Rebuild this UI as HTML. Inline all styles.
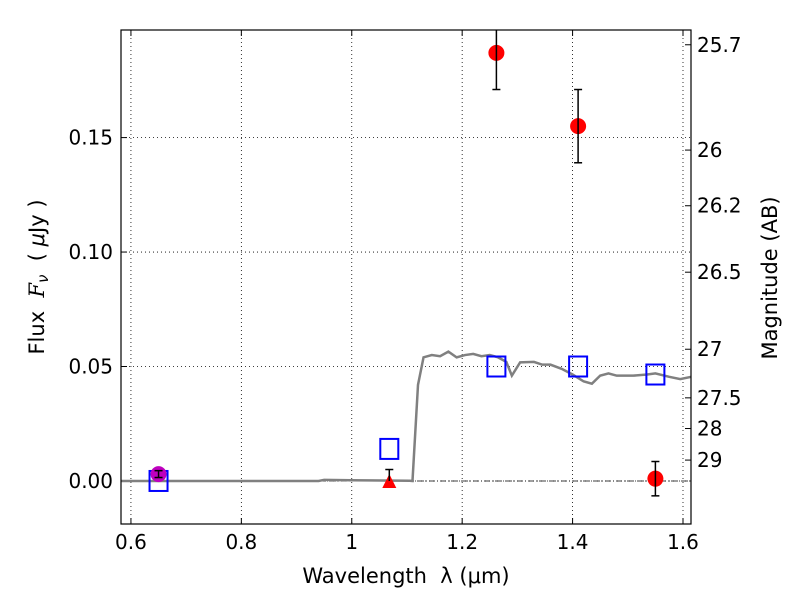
<!DOCTYPE html>
<html><head><meta charset="utf-8"><style>body{margin:0;background:#fff}svg text{font-family:"DejaVu Sans","Liberation Sans",sans-serif;white-space:pre}</style></head>
<body>
<svg id="c" width="800" height="600" xmlns="http://www.w3.org/2000/svg">
<defs><clipPath id="pc"><rect x="121" y="30" width="570" height="494"/></clipPath></defs>
</svg>
<script>
const xTicks=[0.6,0.8,1.0,1.2,1.4,1.6];
const xTickLabels=["0.6","0.8","1","1.2","1.4","1.6"];
const yTicks=[0,0.05,0.10,0.15];
const yTickLabels=["0.00","0.05","0.10","0.15"];
const magTicks=[25.7,26,26.2,26.5,27,27.5,28,29];
const magLabels=["25.7","26","26.2","26.5","27","27.5","28","29"];
const modelWave=[0.58,0.94,0.95,1.0,1.105,1.11,1.12,1.13,1.145,1.16,1.175,1.19,1.205,1.22,1.235,1.25,1.265,1.28,1.29,1.305,1.33,1.345,1.36,1.38,1.40,1.42,1.435,1.45,1.465,1.48,1.51,1.535,1.55,1.575,1.595,1.615];
const modelFlux=[0,0,0.0005,0.0003,0.0001,0,0.042,0.054,0.055,0.0545,0.0565,0.054,0.055,0.0555,0.0545,0.055,0.054,0.052,0.046,0.0518,0.052,0.0508,0.0508,0.049,0.0465,0.0435,0.0425,0.046,0.047,0.046,0.046,0.0465,0.047,0.0455,0.0445,0.0455];
const obsWave=[1.262,1.41,1.55];
const obsFlux=[0.187,0.155,0.001];
const obsErr=[0.016,0.016,0.0075];
const limWave=[1.068];const limFlux=[0];const limErr=[0.005];
const magWave=[0.65];const magFlux=[0.003];const magErr=[0.0015];
const sqWave=[0.65,1.068,1.262,1.41,1.55];
const sqFlux=[0.0,0.014,0.05,0.05,0.0465];
const L=121,R=691,T=30,B=524,x0=0.582,x1=1.6145,y0=-0.0188,y1=0.197;
const X=v=>L+(v-x0)/(x1-x0)*(R-L), Y=v=>B-(v-y0)/(y1-y0)*(B-T);
const svg=document.getElementById('c');const NS='http://www.w3.org/2000/svg';
function add(tag,attrs,name,txt){const e=document.createElementNS(NS,tag);for(const k in attrs)e.setAttribute(k,attrs[k]);


if(txt!==undefined)e.textContent=txt;svg.appendChild(e);return e;}
xTicks.forEach((v,i)=>{const x=X(v);add('line',{x1:x,x2:x,y1:T,y2:B,stroke:'#000','stroke-dasharray':'1,3','stroke-width':0.8},'x-grid-line');
add('line',{x1:x,x2:x,y1:B,y2:B-6,stroke:'#000'},'x-tick');add('line',{x1:x,x2:x,y1:T,y2:T+6,stroke:'#000'},'x-tick-top');
add('text',{x:x,y:B+25,'font-size':20,'text-anchor':'middle'},'x-tick-label',xTickLabels[i]);});
yTicks.forEach((v,i)=>{const y=Y(v);add('line',{x1:L,x2:R,y1:y,y2:y,stroke:'#000','stroke-dasharray':'1,3','stroke-width':0.8},'y-grid-line');
add('line',{x1:L,x2:L+6,y1:y,y2:y,stroke:'#000'},'y-tick');
add('text',{x:L-8,y:y+7,'font-size':20,'text-anchor':'end'},'y-tick-label',yTickLabels[i]);});
magTicks.forEach((m,i)=>{const y=Y(Math.pow(10,(23.9-m)/2.5));add('line',{x1:R-6,x2:R,y1:y,y2:y,stroke:'#000'},'mag-tick');
add('text',{x:R+6,y:y+7,'font-size':20},'mag-tick-label',magLabels[i]);});
const g=add('g',{'clip-path':'url(#pc)'},'plot-area');
function addg(tag,attrs,name){const e=add(tag,attrs,name);g.appendChild(e);return e;}
addg('line',{x1:L,x2:R,y1:Y(0),y2:Y(0),stroke:'#000','stroke-dasharray':'6,2,1,2','stroke-width':0.8},'zero-line');
addg('polyline',{points:modelWave.map((w,i)=>X(w)+','+Y(modelFlux[i])).join(' '),fill:'none',stroke:'#808080','stroke-width':2.5},'model-spectrum');
sqWave.forEach((w,i)=>addg('rect',{x:X(w)-9,y:Y(sqFlux[i])-10,width:18,height:20,fill:'none',stroke:'#0000ff','stroke-width':2},'model-photometry-square'));
function err(x,yv,e){addg('line',{x1:x,x2:x,y1:Y(yv-e),y2:Y(yv+e),stroke:'#000','stroke-width':1.5},'error-bar');
[yv-e,yv+e].forEach(q=>addg('line',{x1:x-4,x2:x+4,y1:Y(q),y2:Y(q),stroke:'#000','stroke-width':1.5},'error-cap'));}
magWave.forEach((w,i)=>{addg('circle',{cx:X(w),cy:Y(magFlux[i]),r:8,fill:'#bf00bf'},'magenta-point');err(X(w),magFlux[i],magErr[i]);});
obsWave.forEach((w,i)=>{addg('circle',{cx:X(w),cy:Y(obsFlux[i]),r:8,fill:'#ff0000'},'observed-point');err(X(w),obsFlux[i],obsErr[i]);});
limWave.forEach((w,i)=>{const x=X(w),y=Y(limFlux[i]);addg('polygon',{points:`${x-7},${y+7} ${x+7},${y+7} ${x},${y-7}`,fill:'#ff0000'},'upper-limit-triangle');
addg('line',{x1:x,x2:x,y1:Y(limFlux[i]+limErr[i]),y2:y,stroke:'#000','stroke-width':1.5},'error-bar');
addg('line',{x1:x-4,x2:x+4,y1:Y(limFlux[i]+limErr[i]),y2:Y(limFlux[i]+limErr[i]),stroke:'#000','stroke-width':1.5},'error-cap');});
add('rect',{x:L,y:T,width:R-L,height:B-T,fill:'none',stroke:'#000','stroke-width':1.2},'plot-frame');
add('text',{x:406,y:583,'font-size':21,'text-anchor':'middle'},'x-axis-title','Wavelength  λ (μm)');
const yt=add('text',{x:0,y:0,'font-size':21,'text-anchor':'middle',transform:'translate(44,277) rotate(-90)'},'y-axis-title');
yt.innerHTML='Flux  <tspan font-style="italic" font-family="DejaVu Serif">F</tspan><tspan font-style="italic" font-size="15" dy="4">ν</tspan><tspan dy="-4">  ( </tspan><tspan font-style="italic">μ</tspan>Jy )';
add('text',{x:0,y:0,'font-size':21,'text-anchor':'middle',transform:'translate(777,278) rotate(-90)'},'right-axis-title','Magnitude (AB)');
</script>
</body></html>
